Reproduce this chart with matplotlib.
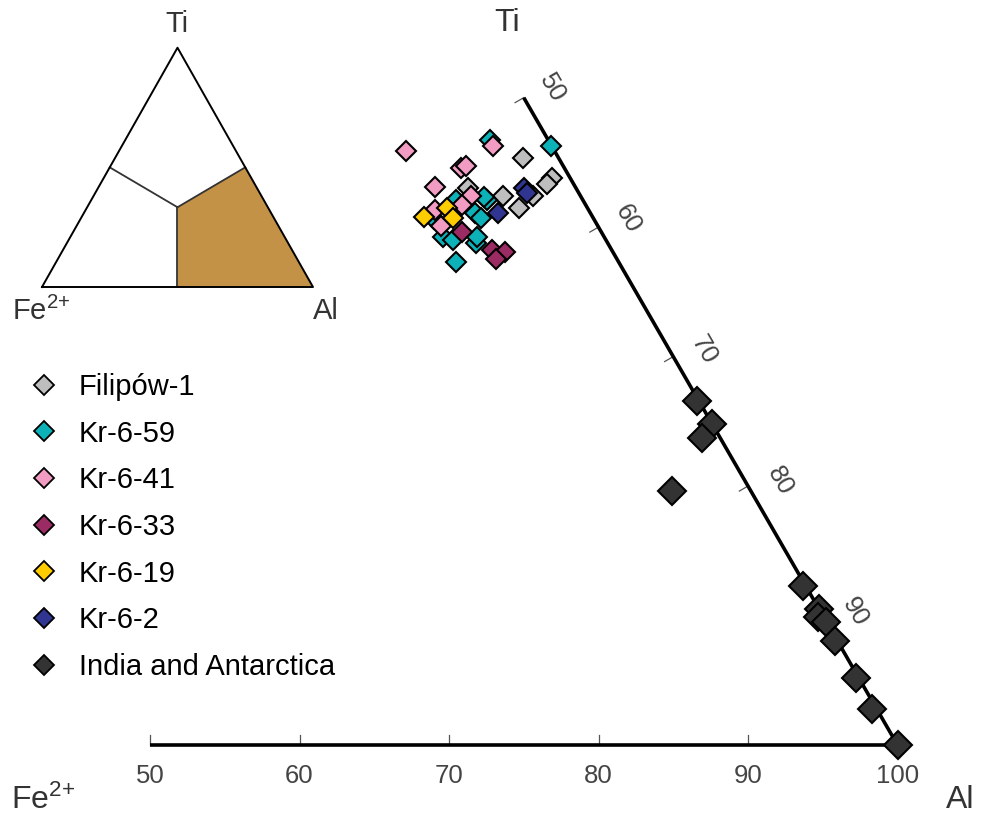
import numpy as np
import matplotlib
matplotlib.use("Agg")
import matplotlib.pyplot as plt
from matplotlib.patches import Polygon
from matplotlib.lines import Line2D

plt.rcParams["font.family"] = ["Liberation Sans", "DejaVu Sans"]
plt.rcParams["mathtext.default"] = "regular"

# ── Compositions (Al and Ti in %, Fe2+ is the remainder) ─────────────────────

filipow_al = [52.3, 49.8, 52.4, 53.9, 55.0, 54.9, 54.4]
filipow_ti = [45.3, 43.0, 42.4, 41.5, 43.8, 43.3, 42.4]

kr659_al = [49.4, 53.7, 51.5, 51.2, 51.2, 51.8, 49.4, 48.7, 50.0, 50.8, 52.4, 51.8, 52.3]
kr659_ti = [46.7, 46.3, 42.1, 42.3, 41.1, 40.7, 42.1, 40.6, 39.2, 39.0, 38.8, 37.3, 39.2]

kr641_al = [44.2, 48.5, 48.8, 49.8, 47.5, 50.3, 49.4, 48.4, 50.0]
kr641_ti = [45.9, 44.6, 44.7, 46.3, 43.1, 42.4, 40.1, 41.3, 41.7]

kr633_al = [51.1, 53.8, 54.7, 54.4]
kr633_ti = [39.6, 38.2, 38.1, 37.5]

kr619_al = [47.9, 49.1, 49.9]
kr619_ti = [40.8, 41.5, 40.7]

kr62_al = [53.5, 53.9, 52.7]
kr62_ti = [43.0, 42.6, 41.1]

india_al = [73.3, 75.2, 75.1, 75.1, 87.5, 89.5, 89.7, 90.5, 91.8, 94.6, 96.9, 100.0]
india_ti = [26.6, 24.8, 23.7, 19.6, 12.3, 10.5, 9.9, 9.5, 8.0, 5.2, 2.8, 0.0]

series_names = ["Filipów-1", "Kr-6-59", "Kr-6-41", "Kr-6-33", "Kr-6-19", "Kr-6-2",
                "India and Antarctica"]
series_colors = ["#BEBEBE", "#0DB2B8", "#F29CC3", "#9B2C63", "#FFCC00", "#2F3590",
                 "#333333"]
series_al = [filipow_al, kr659_al, kr641_al, kr633_al, kr619_al, kr62_al, india_al]
series_ti = [filipow_ti, kr659_ti, kr641_ti, kr633_ti, kr619_ti, kr62_ti, india_ti]

axis_ticks = [50, 60, 70, 80, 90, 100]
edge_ticks = [50, 60, 70, 80, 90]

SQ3 = np.sqrt(3) / 2
FE_LABEL = "Fe$^{2{+}}$"


def tern(al, ti):
    """Al/Ti percent -> cartesian (Fe2+ at origin, Al at (100, 0))."""
    al = np.asarray(al, dtype=float)
    ti = np.asarray(ti, dtype=float)
    return al + ti / 2, ti * SQ3


# ── Figure / main ternary panel ──────────────────────────────────────────────

W, H = 984, 817
S = 14.95          # pixels per composition unit
X0, Y0 = 150, 745  # pixel position of Al = 50 on the base

fig = plt.figure(figsize=(W / 100, H / 100), dpi=100)
ax = fig.add_axes([0, 0, 1, 1])
ax.set_xlim(50 - X0 / S, 50 + (W - X0) / S)
ax.set_ylim((Y0 - H) / S, Y0 / S)
ax.set_axis_off()

# base (Fe2+ - Al) and right edge (Al - Ti)
ax.plot([50, 100], [0, 0], color="black", lw=2.6, solid_capstyle="butt", zorder=2)
ex, ey = tern([100, 50], [0, 50])
ax.plot(ex, ey, color="black", lw=2.6, solid_capstyle="butt", zorder=2)

tick_len = 10 / S
for v in axis_ticks:
    ax.plot([v, v], [0, tick_len], color="#555555", lw=0.9, zorder=1)
    ax.text(v, -31 / S, str(v), ha="center", va="center", fontsize=18.5,
            color="#444444")

nx, ny = -SQ3, -0.5     # inward normal of the right edge
for v in edge_ticks:
    tx, ty = tern(v, 100 - v)
    ax.plot([tx, tx + nx * tick_len], [ty, ty + ny * tick_len],
            color="#555555", lw=0.9, zorder=1)
    along = 0.4 + (v - 50) / 40 * 0.5
    lx = tx - nx * 2.0 + 0.5 * along
    ly = ty - ny * 2.0 - SQ3 * along
    ax.text(lx, ly, str(v), ha="center", va="center", rotation=-60,
            rotation_mode="anchor", fontsize=18.5, color="#444444")

for name, color, al, ti in zip(series_names, series_colors, series_al, series_ti):
    px, py = tern(al, ti)
    big = name.startswith("India")
    ax.plot(px, py, ls="none", marker="D", ms=13.8 if big else 10,
            mfc=color, mec="black", mew=1.5, zorder=3)

ax.text(50 + (507 - X0) / S, (Y0 - 23) / S, "Ti", ha="center", va="center",
        fontsize=23, color="#333333")
ax.text(50 + (43 - X0) / S, (Y0 - 800) / S, FE_LABEL, ha="center", va="center",
        fontsize=23, color="#333333")
ax.text(50 + (960 - X0) / S, (Y0 - 800) / S, "Al", ha="center", va="center",
        fontsize=23, color="#333333")

# legend
handles = [Line2D([], [], ls="none", marker="D", ms=10, mfc=c, mec="black",
                  mew=1.3, label=n)
           for n, c in zip(series_names, series_colors)]
ax.legend(handles=handles, loc="upper left", bbox_to_anchor=(30 / W, 1 - 373 / H),
          bbox_transform=fig.transFigure, frameon=False, fontsize=21,
          handlelength=0.95, handletextpad=0.72, labelspacing=0.64,
          borderpad=0, borderaxespad=0, numpoints=1)

# ── Inset: Fe2+ - Ti - Al classification triangle ───────────────────────────

iax = fig.add_axes([42 / W, 1 - 287 / H, 271 / W, 239.3 / H])
iax.set_xlim(0, 100)
iax.set_ylim(0, 100 * SQ3)
iax.set_axis_off()

cx, cy = tern(100 / 3, 100 / 3)
field = np.column_stack(tern([50, 100, 50, 100 / 3], [0, 0, 50, 100 / 3]))
iax.add_patch(Polygon(field, closed=True, facecolor="#C49246", edgecolor="none"))
for al, ti in [(50, 0), (50, 50), (0, 50)]:
    mx, my = tern(al, ti)
    iax.plot([cx, mx], [cy, my], color="#333333", lw=1.3)
vx, vy = tern([0, 100, 0, 0], [0, 0, 100, 0])
iax.plot(vx, vy, color="black", lw=1.4, clip_on=False)

fig.text(177 / W, 1 - 24 / H, "Ti", ha="center", va="center", fontsize=21,
         color="#333333")
fig.text(41 / W, 1 - 311 / H, FE_LABEL, ha="center", va="center", fontsize=21,
         color="#333333")
fig.text(326 / W, 1 - 311 / H, "Al", ha="center", va="center", fontsize=21,
         color="#333333")

fig.savefig("out.png", dpi=100)
